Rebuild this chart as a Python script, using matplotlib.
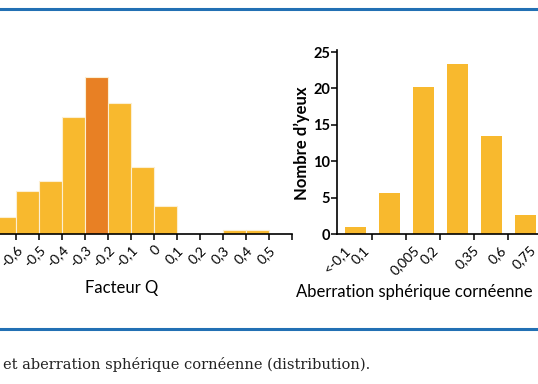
import matplotlib
matplotlib.use("Agg")
import matplotlib.pyplot as plt
from matplotlib.lines import Line2D
import numpy as np

# ---- data ----
q_bin_left = [-0.7, -0.6, -0.5, -0.4, -0.3, -0.2, -0.1, 0.0, 0.1, 0.2, 0.3, 0.4]
q_counts = [2.4, 5.9, 7.3, 16.1, 21.6, 18.0, 9.2, 3.9, 0, 0, 0.5, 0.5]
q_highlight = -0.3
q_ticks = [-0.6, -0.5, -0.4, -0.3, -0.2, -0.1, 0.0, 0.1, 0.2, 0.3, 0.4, 0.5, 0.6]
q_ticklabels = ["-0,6", "-0,5", "-0,4", "-0,3", "-0,2", "-0,1", "0", "0,1", "0,2", "0,3", "0,4", "0,5", ""]

sa_counts = [1.0, 5.6, 20.2, 23.3, 13.5, 2.6]
sa_labels = ["<-0,1", "0,1", "0,005", "0,2", "0,35", "0,6", "0,75"]
sa_label_pos = [-0.31, 0.22, 1.69, 2.25, 3.43, 4.25, 5.12]
y_ticks = [0, 5, 10, 15, 20, 25]

YELLOW = "#F8B92E"
ORANGE = "#E88024"
BLUE = "#2270B4"

plt.rcParams["font.family"] = ["Lato", "DejaVu Sans"]

fig = plt.figure(figsize=(5.38, 3.84), dpi=100)
W, H = 538, 384

def ax_rect(x0, y_top, x1, y_bot):
    return [x0 / W, 1 - y_bot / H, (x1 - x0) / W, (y_bot - y_top) / H]

ymax = 25.3
ytop_px = 234 - ymax * 7.28

# ---- left chart ----
axL = fig.add_axes(ax_rect(-18.5, ytop_px, 292, 234))
colors = [ORANGE if abs(b - q_highlight) < 1e-9 else YELLOW for b in q_bin_left]
axL.bar(q_bin_left, q_counts, width=0.1, align="edge", color=colors,
        edgecolor="#FCEFD2", linewidth=0.8)
axL.set_xlim(-0.75, 0.6)
axL.set_ylim(0, ymax)
for s in ["left", "top", "right"]:
    axL.spines[s].set_visible(False)
axL.spines["bottom"].set_linewidth(1.2)
axL.set_yticks([])
axL.set_xticks(q_ticks)
axL.set_xticklabels(q_ticklabels, rotation=45, ha="right", rotation_mode="anchor",
                    fontsize=10)
axL.tick_params(axis="x", length=4, width=1.1, pad=3)
axL.set_xlabel("Facteur Q", fontsize=12)
axL.xaxis.set_label_coords((121.7 + 18.5) / 310.5, -(288 - 234) / 184.2, transform=axL.transAxes)
axL.xaxis.label.set_va("center")

# ---- right chart ----
xr = np.arange(len(sa_counts))
axR = fig.add_axes(ax_rect(337, ytop_px, 540, 234))
axR.bar(xr, sa_counts, width=0.61, color=YELLOW)
axR.set_xlim(-0.54, 5.426)
axR.set_ylim(0, ymax)
for s in ["top", "right"]:
    axR.spines[s].set_visible(False)
axR.spines["bottom"].set_linewidth(1.2)
axR.spines["left"].set_linewidth(1.2)
axR.set_yticks(y_ticks)
axR.set_yticklabels([str(v) for v in y_ticks], fontsize=10.5, fontweight="bold")
axR.tick_params(axis="y", length=4, width=1.1, pad=1)
axR.set_xticks(xr[:-1] + 0.5)
axR.set_xticklabels([])
axR.tick_params(axis="x", which="major", length=4, width=1.1)
axR.set_xticks(sa_label_pos, minor=True)
axR.set_xticklabels(sa_labels, minor=True, rotation=45, ha="right",
                    rotation_mode="anchor", fontsize=10)
axR.tick_params(axis="x", which="minor", length=0, pad=7)
axR.set_ylabel("Nombre d\u2019yeux", fontsize=12, fontweight="bold")
axR.yaxis.set_label_coords(-(337 - 302) / 203, (234 - 143) / 184.2, transform=axR.transAxes)
axR.yaxis.label.set_va("center")
axR.set_xlabel("Aberration sph\u00e9rique corn\u00e9enne", fontsize=12)
axR.xaxis.set_label_coords((414 - 337) / 203, -(291.7 - 234) / 184.2, transform=axR.transAxes)
axR.xaxis.label.set_va("center")

# ---- decorations ----
fig.add_artist(Line2D([0, 1], [1 - 9 / H, 1 - 9 / H], color=BLUE, linewidth=2.2,
                      transform=fig.transFigure))
fig.add_artist(Line2D([0, 1], [1 - 329 / H, 1 - 329 / H], color=BLUE, linewidth=2.2,
                      transform=fig.transFigure))
fig.text(3 / W, 1 - 365 / H, "et aberration sph\u00e9rique corn\u00e9enne (distribution).",
         fontsize=10.5, family=["DejaVu Serif"], va="center", ha="left", color="#222222")

fig.savefig("out.png", dpi=100)
